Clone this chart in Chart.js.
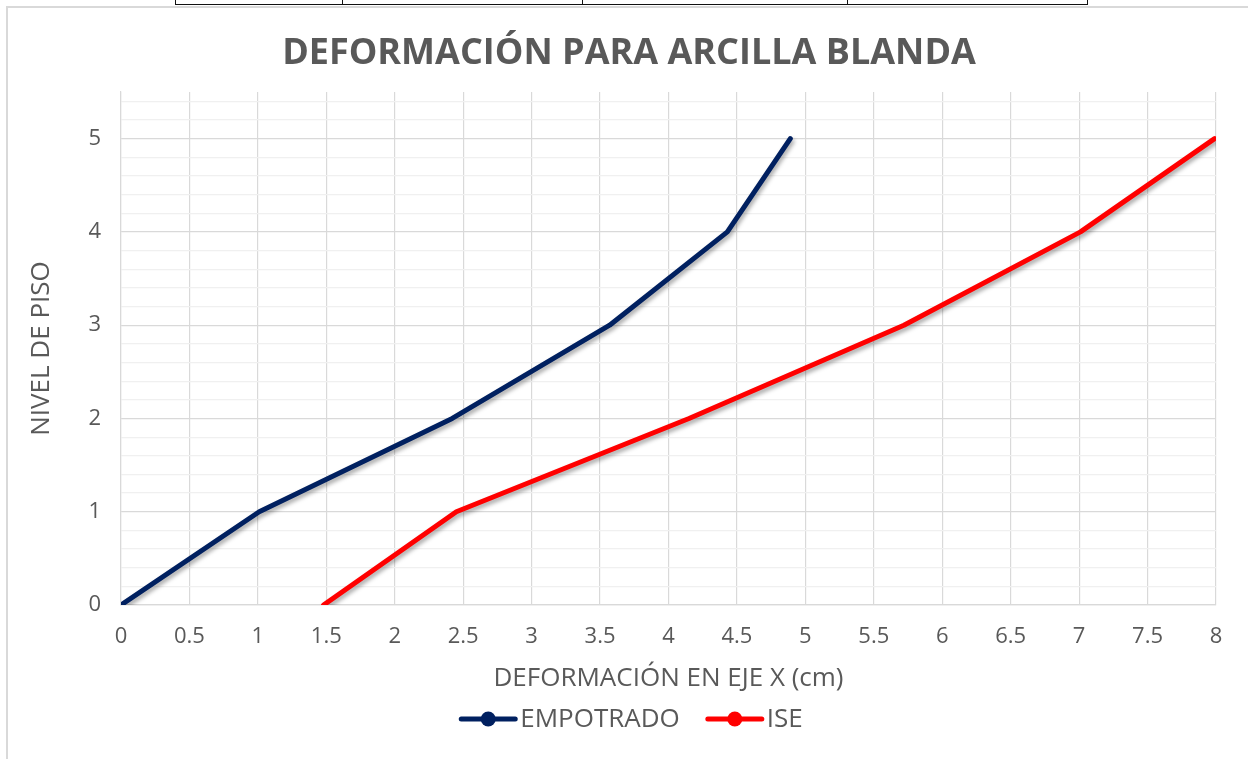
<!DOCTYPE html>
<html lang="es">
<head>
<meta charset="utf-8">
<title>Deformación para arcilla blanda</title>
<script src="https://cdn.jsdelivr.net/npm/chart.js@4/dist/chart.umd.min.js"></script>
<style>
  html, body { margin: 0; padding: 0; background: #ffffff; overflow: hidden; }
  #wrap { position: relative; width: 1248px; height: 759px; }
  #frame { position: absolute; left: 6px; top: 6px; width: 1260px; height: 770px;
           border: 2px solid #d9d9d9; box-sizing: border-box; }
  .cell { position: absolute; top: 0; height: 5px; border-left: 1.5px solid #111; }
  #rowline { position: absolute; left: 175px; top: 4px; width: 913px; height: 0;
             border-top: 1.5px solid #111; }
  #chartBox { position: absolute; left: 0; top: 0; width: 1248px; height: 759px; }
  #chart { display: block; width: 1248px; height: 759px; }
</style>
</head>
<body>
<div id="wrap">
  <div id="frame"></div>
  <div id="rowline"></div>
  <div class="cell" style="left:175px"></div>
  <div class="cell" style="left:342px"></div>
  <div class="cell" style="left:582px"></div>
  <div class="cell" style="left:847px"></div>
  <div class="cell" style="left:1087px"></div>
  <div id="chartBox"><canvas id="chart" width="1248" height="759"></canvas></div>
</div>
<script>
// Floor levels (y) and lateral deformation in X (cm)
const niveles = [0, 1, 2, 3, 4, 5];
const empotrado = [0, 1.01, 2.42, 3.57, 4.43, 4.89];
const ise = [1.48, 2.45, 4.15, 5.72, 7.01, 7.99];

const seriesNames = ['EMPOTRADO', 'ISE'];
const seriesColors = ['#002060', '#ff0000'];

const xTickStep = 0.5;
const yMajorStep = 1;
const yMinorStep = 0.2;

const chartTitle = 'DEFORMACIÓN PARA ARCILLA BLANDA';
const xTitle = 'DEFORMACIÓN EN EJE X (cm)';
const yTitle = 'NIVEL DE PISO';

const FONT = '"Open Sans", "DejaVu Sans", sans-serif';
const TEXT = '#595959';

function toPoints(xs) {
  return xs.map((x, i) => ({ x: x, y: niveles[i] }));
}
function isMajor(v) {
  return Math.abs(v / yMajorStep - Math.round(v / yMajorStep)) < 1e-6;
}

// Soft drop shadow under the series lines
const lineShadow = {
  id: 'lineShadow',
  beforeDatasetsDraw(chart) {
    const ctx = chart.ctx;
    ctx.save();
    ctx.shadowColor = 'rgba(0,0,0,0.35)';
    ctx.shadowBlur = 4;
    ctx.shadowOffsetX = 1.5;
    ctx.shadowOffsetY = 3;
  },
  afterDatasetsDraw(chart) {
    chart.ctx.restore();
  }
};

// Title and line-with-marker legend
const decorations = {
  id: 'decorations',
  afterDraw(chart) {
    const ctx = chart.ctx;
    ctx.save();
    ctx.fillStyle = TEXT;
    ctx.textAlign = 'center';
    ctx.textBaseline = 'middle';
    ctx.font = 'bold 36px ' + FONT;
    ctx.fillText(chartTitle, 629, 54);

    const legendY = 719;
    const items = chart.data.datasets.map((ds, i) => ({
      text: ds.label, color: ds.borderColor
    }));
    ctx.font = '26px ' + FONT;
    const lineLen = 54, gap = 5, itemGap = 28;
    let total = 0;
    items.forEach((it, i) => {
      it.w = ctx.measureText(it.text).width;
      total += lineLen + gap + it.w + (i < items.length - 1 ? itemGap : 0);
    });
    let x = 632 - total / 2;
    items.forEach(it => {
      ctx.strokeStyle = it.color;
      ctx.lineWidth = 5;
      ctx.lineCap = 'round';
      ctx.beginPath();
      ctx.moveTo(x, legendY);
      ctx.lineTo(x + lineLen, legendY);
      ctx.stroke();
      ctx.fillStyle = it.color;
      ctx.beginPath();
      ctx.arc(x + lineLen / 2, legendY, 7.5, 0, Math.PI * 2);
      ctx.fill();
      ctx.fillStyle = TEXT;
      ctx.textAlign = 'left';
      ctx.fillText(it.text, x + lineLen + gap, legendY + 1);
      x += lineLen + gap + it.w + itemGap;
    });
    ctx.restore();
  }
};

new Chart(document.getElementById('chart'), {
  type: 'line',
  data: {
    datasets: [
      { label: seriesNames[0], data: toPoints(empotrado), borderColor: seriesColors[0],
        backgroundColor: seriesColors[0] },
      { label: seriesNames[1], data: toPoints(ise), borderColor: seriesColors[1],
        backgroundColor: seriesColors[1] }
    ]
  },
  options: {
    responsive: false,
    animation: false,
    devicePixelRatio: 1,
    layout: { padding: { top: 92, right: 32, bottom: 0, left: 0 } },
    elements: {
      line: { borderWidth: 5, tension: 0, borderCapStyle: 'round', borderJoinStyle: 'round' },
      point: { radius: 0, hoverRadius: 0 }
    },
    plugins: {
      legend: { display: false },
      title: { display: false },
      tooltip: { enabled: false }
    },
    scales: {
      x: {
        type: 'linear',
        min: 0,
        max: 8,
        ticks: {
          stepSize: xTickStep,
          color: TEXT,
          font: { family: FONT, size: 22 },
          padding: 19,
          maxRotation: 0,
          autoSkip: false,
          callback: v => String(v)
        },
        grid: { color: '#d9d9d9', lineWidth: 1.2, drawTicks: false },
        border: { color: '#d9d9d9', width: 1.2 },
        title: {
          display: true, text: xTitle, color: TEXT,
          font: { family: FONT, size: 26 },
          padding: { top: 0, bottom: 65 }
        },
        afterFit(scale) { scale.height = 154; }
      },
      y: {
        type: 'linear',
        min: 0,
        max: 5.5,
        afterBuildTicks(scale) {
          const t = [];
          for (let k = 0; k * yMinorStep < 5.5 - 1e-6; k++) {
            t.push({ value: Math.round(k * yMinorStep * 10) / 10 });
          }
          scale.ticks = t;
        },
        ticks: {
          color: TEXT,
          font: { family: FONT, size: 22 },
          padding: 20,
          autoSkip: false,
          callback: v => (isMajor(v) ? String(Math.round(v)) : '')
        },
        grid: {
          drawTicks: false,
          color: c => (isMajor(c.tick.value) ? '#d9d9d9' : '#f0f0f0'),
          lineWidth: 1.2
        },
        border: { color: '#d9d9d9', width: 1.2 },
        title: {
          display: true, text: yTitle, color: TEXT,
          font: { family: FONT, size: 26 },
          padding: { top: 26, bottom: 0 }
        },
        afterFit(scale) { scale.width = 121; }
      }
    }
  },
  plugins: [lineShadow, decorations]
});
</script>
</body>
</html>
